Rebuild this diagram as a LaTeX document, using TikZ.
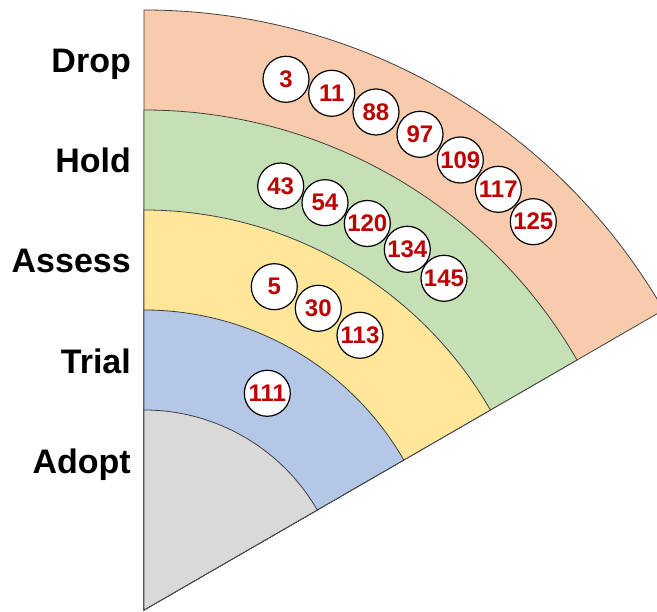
\documentclass[tikz,border=0pt]{standalone}
\usepackage{fontspec}
\setmainfont{Liberation Sans}
\definecolor{dropc}{HTML}{F8CBAD}
\definecolor{holdc}{HTML}{C5E0B4}
\definecolor{assessc}{HTML}{FFE699}
\definecolor{trialc}{HTML}{B4C7E7}
\definecolor{adoptc}{HTML}{D9D9D9}
\definecolor{numred}{HTML}{C00000}
\begin{document}
\begin{tikzpicture}[x=1pt,y=1pt,
  ring/.style={draw=black!75, line width=0.8pt},
  item/.style={circle, draw=black, line width=1.2pt, fill=white, minimum size=46pt, inner sep=0pt,
    font=\fontsize{24}{24}\selectfont\bfseries, text=numred},
  ringlabel/.style={anchor=base east, inner sep=0pt, font=\fontsize{34}{34}\selectfont\bfseries}]
\useasboundingbox (0,0) rectangle (657,612);
\begin{scope}
\clip (0,0) rectangle (657,612);
\coordinate (c) at (144,2);
\foreach \r/\col in {600/dropc,500/holdc,400/assessc,300/trialc,200/adoptc}
  \filldraw[ring, fill=\col] (c) -- ++(90:\r) arc[start angle=90, end angle=30, radius=\r] -- cycle;
\end{scope}
% ring labels
\node[ringlabel] (lDrop)   at (131,539.3) {Drop};
\node[ringlabel] (lHold)   at (131,439.2) {Hold};
\node[ringlabel] (lAssess) at (131,339) {Assess};
\node[ringlabel] (lTrial)  at (131,238.9) {Trial};
\node[ringlabel] (lAdopt)  at (131,138.7) {Adopt};
% Drop
\node[item] (n3)   at (286,532.7) {3};
\node[item] (n11)  at (331.7,518.7) {11};
\node[item] (n88)  at (376,500) {88};
\node[item] (n97)  at (420,477.7) {97};
\node[item] (n109) at (460.3,452) {109};
\node[item] (n117) at (498.3,422.7) {117};
\node[item] (n125) at (533.3,390.3) {125};
% Hold
\node[item] (n43)  at (280.7,426) {43};
\node[item] (n54)  at (325,409.3) {54};
\node[item] (n120) at (367.3,388.5) {120};
\node[item] (n134) at (407.3,362.7) {134};
\node[item] (n145) at (444,333.7) {145};
% Assess
\node[item] (n5)   at (274.3,325.3) {5};
\node[item] (n30)  at (318.3,303.7) {30};
\node[item] (n113) at (360,276.7) {113};
% Trial
\node[item] (n111) at (267.3,218.7) {111};
\end{tikzpicture}
\end{document}
